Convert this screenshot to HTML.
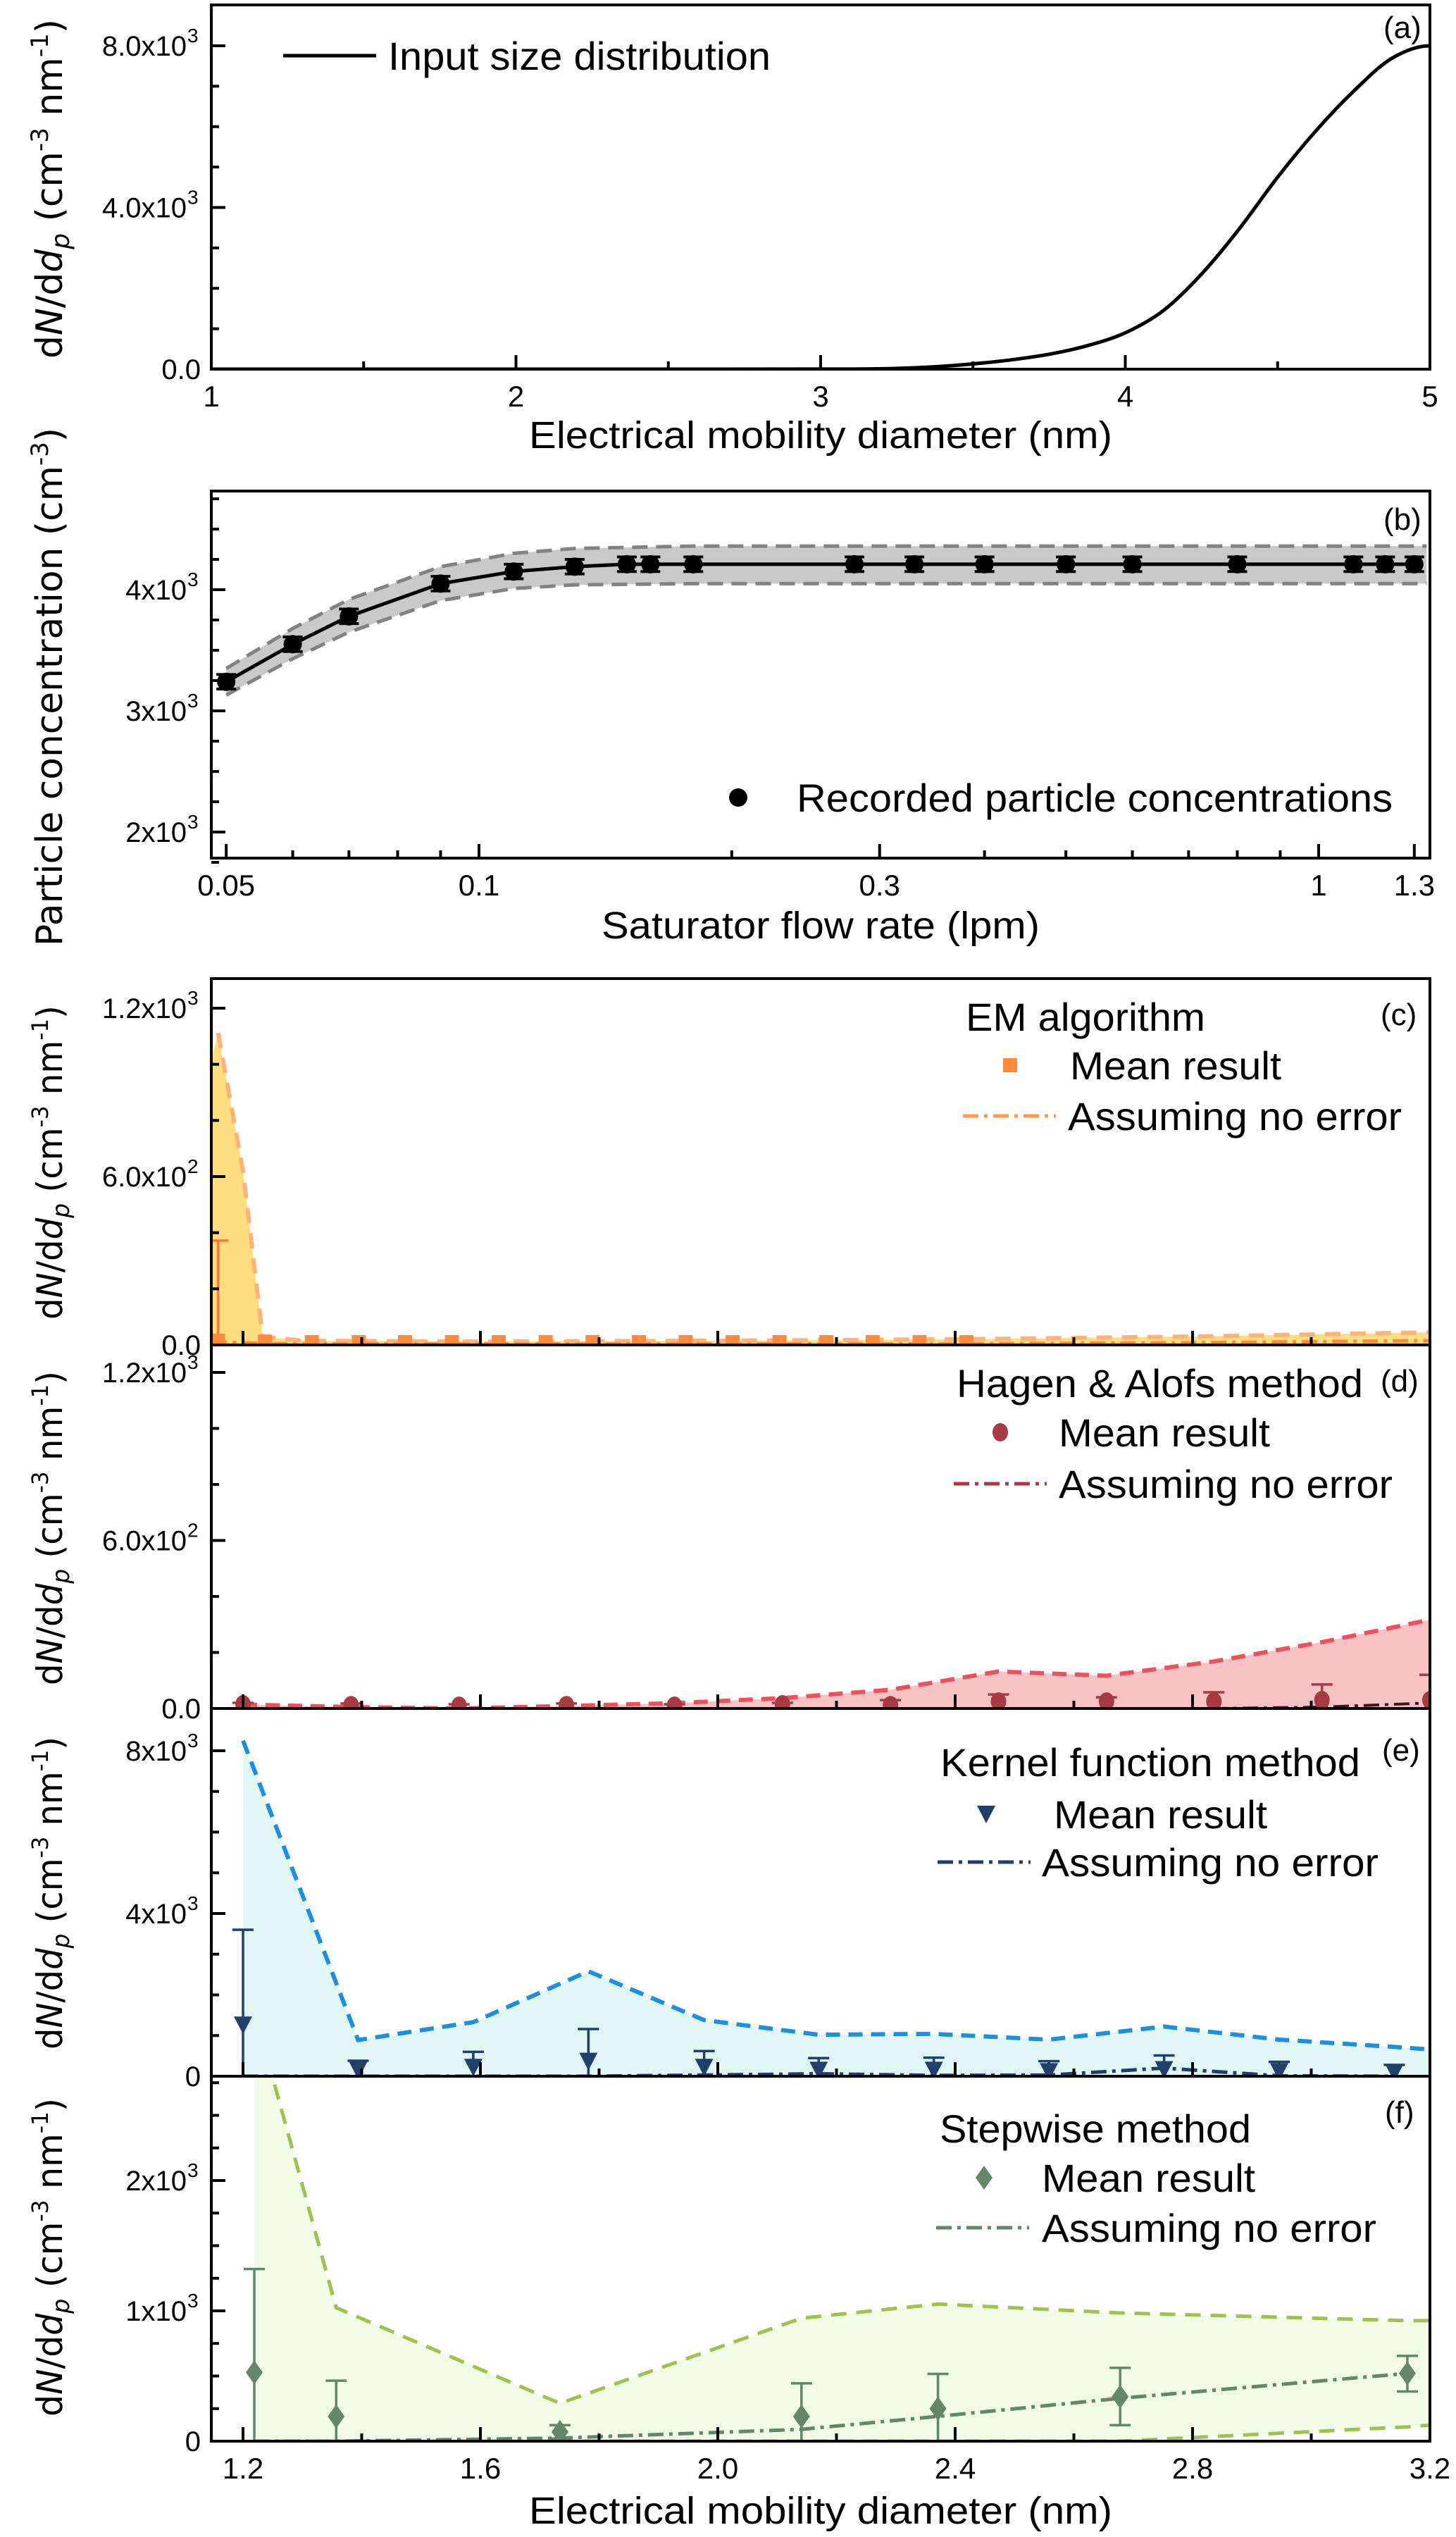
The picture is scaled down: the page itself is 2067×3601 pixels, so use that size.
<!DOCTYPE html>
<html><head><meta charset="utf-8"><style>
html,body{margin:0;padding:0;background:#fff}
svg{display:block}
text{font-family:"Liberation Sans",Arial,sans-serif;fill:#000}
.yt{font-family:"DejaVu Sans","Liberation Sans",sans-serif}
</style></head><body>
<svg id="fig" xmlns="http://www.w3.org/2000/svg" width="2067" height="3601" viewBox="0 0 2067 3601">
<defs>
<clipPath id="clipA"><rect x="300" y="7" width="1730" height="517"/></clipPath>
<clipPath id="clipB"><rect x="300" y="697" width="1730" height="521"/></clipPath>
<clipPath id="clipC"><rect x="300" y="1389" width="1730" height="520"/></clipPath>
<clipPath id="clipD"><rect x="300" y="1909" width="1730" height="516"/></clipPath>
<clipPath id="clipE"><rect x="300" y="2425" width="1730" height="522"/></clipPath>
<clipPath id="clipF"><rect x="300" y="2947" width="1730" height="518"/></clipPath>
</defs>
<g id="layerData"></g>
<g id="layerAxes"></g>

<rect x="300" y="7" width="1730" height="517" fill="none" stroke="#000" stroke-width="4"/>
<rect x="300" y="697" width="1730" height="521" fill="none" stroke="#000" stroke-width="4"/>
<rect x="300" y="1389" width="1730" height="520" fill="none" stroke="#000" stroke-width="4"/>
<rect x="300" y="1909" width="1730" height="516" fill="none" stroke="#000" stroke-width="4"/>
<rect x="300" y="2425" width="1730" height="522" fill="none" stroke="#000" stroke-width="4"/>
<rect x="300" y="2947" width="1730" height="518" fill="none" stroke="#000" stroke-width="4"/>

<text class="yt" transform="translate(88,268) rotate(-90)" text-anchor="middle" font-size="52" textLength="482" lengthAdjust="spacingAndGlyphs">d<tspan font-style="italic">N</tspan>/d<tspan font-style="italic">d</tspan><tspan font-style="italic" font-size="36" dy="10">p</tspan><tspan dy="-10"> (cm</tspan><tspan font-size="34" dy="-20">-3</tspan><tspan dy="20"> nm</tspan><tspan font-size="34" dy="-20">-1</tspan><tspan dy="20">)</tspan></text>
<text class="yt" transform="translate(88,975) rotate(-90)" text-anchor="middle" font-size="52" textLength="736" lengthAdjust="spacingAndGlyphs">Particle concentration (cm<tspan font-size="34" dy="-20">-3</tspan><tspan dy="20">)</tspan></text>
<text class="yt" transform="translate(88,1650) rotate(-90)" text-anchor="middle" font-size="50" textLength="446" lengthAdjust="spacingAndGlyphs">d<tspan font-style="italic">N</tspan>/d<tspan font-style="italic">d</tspan><tspan font-style="italic" font-size="34" dy="10">p</tspan><tspan dy="-10"> (cm</tspan><tspan font-size="32" dy="-20">-3</tspan><tspan dy="20"> nm</tspan><tspan font-size="32" dy="-20">-1</tspan><tspan dy="20">)</tspan></text>
<text class="yt" transform="translate(88,2169) rotate(-90)" text-anchor="middle" font-size="50" textLength="446" lengthAdjust="spacingAndGlyphs">d<tspan font-style="italic">N</tspan>/d<tspan font-style="italic">d</tspan><tspan font-style="italic" font-size="34" dy="10">p</tspan><tspan dy="-10"> (cm</tspan><tspan font-size="32" dy="-20">-3</tspan><tspan dy="20"> nm</tspan><tspan font-size="32" dy="-20">-1</tspan><tspan dy="20">)</tspan></text>
<text class="yt" transform="translate(88,2687) rotate(-90)" text-anchor="middle" font-size="50" textLength="444" lengthAdjust="spacingAndGlyphs">d<tspan font-style="italic">N</tspan>/d<tspan font-style="italic">d</tspan><tspan font-style="italic" font-size="34" dy="10">p</tspan><tspan dy="-10"> (cm</tspan><tspan font-size="32" dy="-20">-3</tspan><tspan dy="20"> nm</tspan><tspan font-size="32" dy="-20">-1</tspan><tspan dy="20">)</tspan></text>
<text class="yt" transform="translate(88,3204) rotate(-90)" text-anchor="middle" font-size="50" textLength="452" lengthAdjust="spacingAndGlyphs">d<tspan font-style="italic">N</tspan>/d<tspan font-style="italic">d</tspan><tspan font-style="italic" font-size="34" dy="10">p</tspan><tspan dy="-10"> (cm</tspan><tspan font-size="32" dy="-20">-3</tspan><tspan dy="20"> nm</tspan><tspan font-size="32" dy="-20">-1</tspan><tspan dy="20">)</tspan></text>

<text x="1165" y="636" text-anchor="middle" font-size="54" textLength="828" lengthAdjust="spacingAndGlyphs">Electrical mobility diameter (nm)</text>
<text x="1165" y="1332" text-anchor="middle" font-size="54" textLength="622" lengthAdjust="spacingAndGlyphs">Saturator flow rate (lpm)</text>
<text x="1165" y="3582" text-anchor="middle" font-size="54" textLength="828" lengthAdjust="spacingAndGlyphs">Electrical mobility diameter (nm)</text>

<text x="1964" y="54" font-size="44">(a)</text>
<text x="1964" y="752" font-size="44">(b)</text>
<text x="1960" y="1455" font-size="44">(c)</text>
<text x="1960" y="1975" font-size="44">(d)</text>
<text x="1962" y="2499" font-size="44">(e)</text>
<text x="1966" y="3013" font-size="44">(f)</text>

<g>
<line x1="402" y1="79" x2="534" y2="79" stroke="#000" stroke-width="5"/>
<text x="551" y="99" font-size="56" textLength="543" lengthAdjust="spacingAndGlyphs">Input size distribution</text>
</g>
<g>
<circle cx="1048" cy="1132" r="13" fill="#000"/>
<text x="1131" y="1152" font-size="56" textLength="846" lengthAdjust="spacingAndGlyphs">Recorded particle concentrations</text>
</g>
<g>
<text x="1371" y="1463" font-size="56" textLength="340" lengthAdjust="spacingAndGlyphs">EM algorithm</text>
<rect x="1424" y="1502" width="20" height="20" fill="#FF8A3D"/>
<text x="1519" y="1532" font-size="56" textLength="300" lengthAdjust="spacingAndGlyphs">Mean result</text>
<line x1="1367" y1="1584" x2="1499" y2="1584" stroke="#FF9A50" stroke-width="5" stroke-dasharray="22,8,5,8"/>
<text x="1516" y="1604" font-size="56" textLength="474" lengthAdjust="spacingAndGlyphs">Assuming no error</text>
</g>
<g>
<text x="1358" y="1983" font-size="56" textLength="577" lengthAdjust="spacingAndGlyphs">Hagen &amp; Alofs method</text>
<ellipse cx="1420" cy="2033" rx="11" ry="13" fill="#A83A44"/>
<text x="1503" y="2053" font-size="56" textLength="300" lengthAdjust="spacingAndGlyphs">Mean result</text>
<line x1="1354" y1="2106" x2="1486" y2="2106" stroke="#A83A44" stroke-width="5" stroke-dasharray="22,8,5,8"/>
<text x="1503" y="2126" font-size="56" textLength="474" lengthAdjust="spacingAndGlyphs">Assuming no error</text>
</g>
<g>
<text x="1335" y="2521" font-size="56" textLength="596" lengthAdjust="spacingAndGlyphs">Kernel function method</text>
<path d="M1387,2563 L1413,2563 L1400,2588 Z" fill="#213F6B"/>
<text x="1496" y="2595" font-size="56" textLength="303" lengthAdjust="spacingAndGlyphs">Mean result</text>
<line x1="1331" y1="2643" x2="1463" y2="2643" stroke="#213F6B" stroke-width="5" stroke-dasharray="22,8,5,8"/>
<text x="1479" y="2663" font-size="56" textLength="478" lengthAdjust="spacingAndGlyphs">Assuming no error</text>
</g>
<g>
<text x="1334" y="3041" font-size="56" textLength="442" lengthAdjust="spacingAndGlyphs">Stepwise method</text>
<path d="M1397,3074 L1409,3091 L1397,3108 L1385,3091 Z" fill="#64866A"/>
<text x="1479" y="3111" font-size="56" textLength="303" lengthAdjust="spacingAndGlyphs">Mean result</text>
<line x1="1329" y1="3162" x2="1461" y2="3162" stroke="#64866A" stroke-width="5" stroke-dasharray="22,8,5,8"/>
<text x="1479" y="3182" font-size="56" textLength="475" lengthAdjust="spacingAndGlyphs">Assuming no error</text>
</g>
</svg>
<script>
// panel a
const aDiam = [1, 2, 3, 3.25, 3.375, 3.5, 3.625, 3.75, 3.875, 4, 4.125, 4.25, 4.375, 4.5, 4.625, 4.75, 4.875, 5];
const aConc = [0, 0, 2, 20, 60, 130, 230, 370, 580, 900, 1450, 2350, 3480, 4750, 5890, 6880, 7690, 8000];
// panel b
const bFlow = [0.05,0.06,0.07,0.09,0.11,0.13,0.15,0.16,0.18,0.28,0.33,0.40,0.50,0.60,0.80,1.1,1.2,1.3];
const bConc = [3240,3550,3780,4050,4150,4190,4210,4210,4210,4210,4210,4210,4210,4210,4210,4210,4210,4210];
const bErr = [60,60,60,60,60,60,60,60,60,60,60,60,60,60,60,60,60,60];
const bBandX = [0.05,0.06,0.07,0.09,0.11,0.13,0.18,0.5,1.0,1.345];
const bBandHi = [3350,3680,3920,4190,4300,4340,4360,4360,4360,4360];
const bBandLo = [3130,3430,3650,3910,4010,4040,4050,4050,4050,4050];
// panel c (EM)
const cX = [1.158,1.237,1.316,1.395,1.473,1.552,1.631,1.710,1.789,1.867,1.946,2.025,2.104,2.183,2.261,2.340,2.419];
const cMean = [15,12,10,10,10,10,10,10,10,10,10,10,10,10,10,10,10];
const cErrTop = [372,12,10,10,10,10,10,10,10,10,10,10,10,10,10,10,10];
const cBandX = [1.147,1.158,1.20,1.233,1.30,1.6,2.0,2.4,2.8,3.2];
const cUpper = [1020,1112,620,30,15,12,15,20,30,45];
const cNoErr = [10,10,8,5,4,4,4,4,8,15];
// panel d (Hagen)
const dX = [1.2,1.382,1.564,1.745,1.927,2.109,2.291,2.473,2.655,2.836,3.018,3.2];
const dMean = [15,12,10,12,10,15,12,25,25,25,30,30];
const dErrTop = [20,18,15,18,15,20,30,50,40,58,86,120];
const dUpper = [14,5,0,9,19,37,67,132,117,168,237,317];
const dNoErr = [0,0,0,0,0,0,0,0,0,0,5,20];
// panel e (Kernel)
const eX = [1.2,1.394,1.588,1.782,1.977,2.17,2.364,2.558,2.752,2.946,3.14];
const eMean = [1260,150,220,370,220,150,150,115,165,115,90];
const eErrTop = [3600,380,600,1160,620,445,457,370,510,355,280];
const eBandX = [1.2,1.394,1.588,1.782,1.977,2.17,2.364,2.558,2.752,2.946,3.14,3.2];
const eUpper = [8250,890,1330,2580,1380,1020,1040,900,1220,900,720,660];
const eNoErr = [0,0,0,0,30,60,20,30,200,10,0];
// panel f (Stepwise)
const fX = [1.219,1.357,1.734,2.141,2.371,2.678,3.162];
const fMean = [528,190,71,190,250,341,520];
const fErrTop = [1321,464,123,444,516,563,655];
const fErrBot = [0,0,20,0,0,123,381];
const fBandX = [1.219,1.357,1.734,2.141,2.371,2.678,3.162,3.2];
const fUpper = [3300,1024,290,944,1052,984,925,925];
const fLower = [0,0,0,0,0,0,110,123];
const fNoErr = [0,0,24,91,190,329,520];
// ticks
const aXTicks = [1,2,3,4,5];
const aXMinor = [1.5,2.5,3.5,4.5];
const aYTicks = [0,4000,8000];
const aYLabels = ['0.0','4.0x10','8.0x10'];
const aYSup = ['','3','3'];
const bXTicks = [0.05,0.1,0.3,1,1.3];
const bXLabels = ['0.05','0.1','0.3','1','1.3'];
const bXMinor = [0.06,0.07,0.08,0.09,0.2,0.4,0.5,0.6,0.7,0.8,0.9];
const bYTicks = [2000,3000,4000];
const bYLabels = ['2x10','3x10','4x10'];
const cdXTicks = [1.2,1.6,2.0,2.4,2.8,3.2];
const cdXLabels = ['1.2','1.6','2.0','2.4','2.8','3.2'];
const cdXMinor = [1.4,1.8,2.2,2.6,3.0];
const cYTicks = [0,600,1200];
const cYLabels = ['0.0','6.0x10','1.2x10'];
const cYSup = ['','2','3'];
const eYTicks = [0,4000,8000];
const eYLabels = ['0','4x10','8x10'];
const fYTicks = [0,1000,2000];
const fYLabels = ['0','1x10','2x10'];

const NS='http://www.w3.org/2000/svg';
const dataL=document.getElementById('layerData');
const axL=document.getElementById('layerAxes');
function mk(tag, attrs, parent){const e=document.createElementNS(NS,tag);for(const k in attrs)e.setAttribute(k,attrs[k]);(parent||dataL).appendChild(e);return e;}
function lin(d0,d1,r0,r1){return v=>r0+(v-d0)/(d1-d0)*(r1-r0);}
const xA=lin(1,5,300,2030), yA=lin(0,8000,524,65);
const xB=v=>680+Math.log10(v/0.1)*1192, yB=lin(2000,4000,1181,837);
const xC=lin(1.2,3.2,345,2030);
const yC=lin(0,1200,1909,1431), yD=lin(0,1200,2425,1948), yE=lin(0,8000,2947,2485), yF=lin(0,2000,3465,3095);
function pts(xs,ys,fx,fy){return xs.map((x,i)=>[fx(x),fy(ys[i])]);}
function linePath(p){return p.map((q,i)=>(i?'L':'M')+q[0].toFixed(1)+','+q[1].toFixed(1)).join(' ');}
function monoPath(p){
  const n=p.length, dx=[], s=[], m=[];
  for(let i=0;i<n-1;i++){dx.push(p[i+1][0]-p[i][0]);s.push((p[i+1][1]-p[i][1])/dx[i]);}
  m[0]=s[0]; m[n-1]=0;
  for(let i=1;i<n-1;i++){m[i]=(s[i-1]*s[i]<=0)?0:(s[i-1]*dx[i]+s[i]*dx[i-1])/(dx[i]+dx[i-1]);}
  for(let i=0;i<n-1;i++){ if(s[i]===0){m[i]=0;m[i+1]=0;continue;}
    const a=m[i]/s[i], b=m[i+1]/s[i], h=a*a+b*b; if(h>9){const t=3/Math.sqrt(h);m[i]=t*a*s[i];m[i+1]=t*b*s[i];}}
  let d='M'+p[0][0].toFixed(1)+','+p[0][1].toFixed(1);
  for(let i=0;i<n-1;i++){const h=dx[i]/3;
    d+=` C${(p[i][0]+h).toFixed(1)},${(p[i][1]+m[i]*h).toFixed(1)} ${(p[i+1][0]-h).toFixed(1)},${(p[i+1][1]-m[i+1]*h).toFixed(1)} ${p[i+1][0].toFixed(1)},${p[i+1][1].toFixed(1)}`;}
  return d;}
function grp(clip,name){const g=mk('g',{'clip-path':'url(#'+clip+')'});return g;}

function yTicks(fy,majors,minors,labels,sups,name){
  majors.forEach((v,i)=>{const y=fy(v);
    const t=mk('line',{x1:300,y1:y,x2:320,y2:y,stroke:'#000','stroke-width':4},axL);
    
    
    const tx=mk('text',{x:sups[i]?265:285,y:y+14,'font-size':40,'text-anchor':'end'},axL);
    tx.textContent=labels[i];
    
    
    if(sups[i]){const s=mk('text',{x:266,y:y-5,'font-size':28},axL);s.textContent=sups[i];
      
      }
  });
  minors.forEach(v=>{const y=fy(v);
    const t=mk('line',{x1:300,y1:y,x2:311,y2:y,stroke:'#000','stroke-width':4},axL);
    
    });
}
function xTicks(fx,yb,majors,minors,labels,name){
  majors.forEach((v,i)=>{const x=fx(v);
    const t=mk('line',{x1:x,y1:yb,x2:x,y2:yb-20,stroke:'#000','stroke-width':4},axL);
    
    
    if(labels){const tx=mk('text',{x:x,y:yb+53,'font-size':42,'text-anchor':'middle'},axL);tx.textContent=labels[i];
      
      }
  });
  minors.forEach(v=>{const x=fx(v);
    const t=mk('line',{x1:x,y1:yb,x2:x,y2:yb-11,stroke:'#000','stroke-width':4},axL);
    
    });
}
function range(a,b,s){const r=[];for(let v=a;v<=b+1e-9;v+=s)r.push(+v.toFixed(6));return r;}
yTicks(yA,aYTicks,[1000,2000,3000,5000,6000,7000],aYLabels,aYSup,'panel-a');
xTicks(xA,524,aXTicks,aXMinor,aXTicks.map(String),'panel-a');
yTicks(yB,bYTicks,range(1750,4750,250).filter(v=>v%1000),bYLabels,['3','3','3'],'panel-b');
xTicks(xB,1218,bXTicks,bXMinor,bXLabels,'panel-b');
yTicks(yC,cYTicks,[200,400,800,1000],cYLabels,cYSup,'panel-c');
xTicks(xC,1909,cdXTicks,cdXMinor,null,'panel-c');
yTicks(yD,cYTicks,[200,400,800,1000],cYLabels,cYSup,'panel-d');
xTicks(xC,2425,cdXTicks,cdXMinor,null,'panel-d');
yTicks(yE,eYTicks,[1000,2000,3000,5000,6000,7000,9000].filter(v=>yE(v)>2430),eYLabels,['','3','3'],'panel-e');
xTicks(xC,2947,cdXTicks,cdXMinor,null,'panel-e');
yTicks(yF,fYTicks,[250,500,750,1250,1500,1750,2250,2500,2750],fYLabels,['','3','3'],'panel-f');
xTicks(xC,3465,cdXTicks,cdXMinor,cdXLabels,'panel-f');

{const g=grp('clipA','panel-a-plot');
 const p=mk('path',{d:monoPath(pts(aDiam,aConc,xA,yA)),fill:'none',stroke:'#000','stroke-width':5},g);
 
 }

{const g=grp('clipB','panel-b-plot');
 const hi=pts(bBandX,bBandHi,xB,yB), lo=pts(bBandX,bBandLo,xB,yB);
 const band=mk('path',{d:linePath(hi)+' '+linePath(lo.slice().reverse()).replace('M','L')+' Z',fill:'#c9c9c9',stroke:'none'},g);
 
 
 const h=mk('path',{d:linePath(hi),fill:'none',stroke:'#828282','stroke-width':5,'stroke-dasharray':'22,12'},g);
 
 
 const l=mk('path',{d:linePath(lo),fill:'none',stroke:'#828282','stroke-width':5,'stroke-dasharray':'22,12'},g);
 
 
 const ln=mk('path',{d:linePath(pts(bFlow,bConc,xB,yB)),fill:'none',stroke:'#000','stroke-width':5},g);
 
 
 bFlow.forEach((f,i)=>{const x=xB(f),y=bConc[i];
  const e=mk('path',{d:`M${x},${yB(y-bErr[i])} L${x},${yB(y+bErr[i])} M${x-14},${yB(y-bErr[i])} L${x+14},${yB(y-bErr[i])} M${x-14},${yB(y+bErr[i])} L${x+14},${yB(y+bErr[i])}`,stroke:'#000','stroke-width':4,fill:'none'},g);
  
  
  const c=mk('circle',{cx:x,cy:yB(y),r:13,fill:'#000'},g);
  
  });}

function areaPath(xs,up,lo,fx,fy){const u=pts(xs,up,fx,fy);const l=pts(xs,lo,fx,fy).reverse();return linePath(u)+' '+linePath(l).replace('M','L')+' Z';}
function errBar(g,x,yt,yb,color,name){const e=mk('path',{d:`M${x},${yb} L${x},${yt} M${x-15},${yt} L${x+15},${yt}`,stroke:color,'stroke-width':3.5,fill:'none'},g);
 
 }

{const g=grp('clipC','panel-c-plot');
 const a=mk('path',{d:areaPath(cBandX,cUpper,cBandX.map(()=>0),xC,yC),fill:'#FFDD80'},g);
 
 
 const u=mk('path',{d:linePath(pts(cBandX.slice(1),cUpper.slice(1),xC,yC)),fill:'none',stroke:'#FFB27A','stroke-width':6,'stroke-dasharray':'22,14'},g);
 
 
 const n=mk('path',{d:linePath(pts(cBandX,cNoErr,xC,yC)),fill:'none',stroke:'#FF8A3D','stroke-width':5,'stroke-dasharray':'22,8,5,8'},g);
 
 
 cX.forEach((d,i)=>{const x=xC(d);
  if(cErrTop[i]>cMean[i]+20) errBar(g,x,yC(cErrTop[i]),yC(0),'#FF7A3A','em-error-bar');
  const r=mk('rect',{x:x-10,y:yC(cMean[i])-10,width:20,height:20,fill:'#FF8A3D'},g);
  
  });}

{const g=grp('clipD','panel-d-plot');
 const a=mk('path',{d:areaPath(dX,dUpper,dX.map(()=>0),xC,yD),fill:'#F9C3C3'},g);
 
 
 const u=mk('path',{d:linePath(pts(dX,dUpper,xC,yD)),fill:'none',stroke:'#F0505E','stroke-width':6,'stroke-dasharray':'20,12'},g);
 
 
 const n=mk('path',{d:linePath(pts(dX,dNoErr,xC,yD)),fill:'none',stroke:'#3a1a1a','stroke-width':4,'stroke-dasharray':'22,8,5,8'},g);
 
 
 dX.forEach((d,i)=>{const x=xC(d);
  errBar(g,x,yD(dErrTop[i]),yD(0),'#A83A44','hagen-error-bar');
  const c=mk('ellipse',{cx:x,cy:yD(dMean[i]),rx:11,ry:13,fill:'#A83A44'},g);
  
  });}

{const g=grp('clipE','panel-e-plot');
 const a=mk('path',{d:areaPath(eBandX,eUpper,eBandX.map(()=>0),xC,yE),fill:'#E1F7F6'},g);
 
 
 const u=mk('path',{d:linePath(pts(eBandX,eUpper,xC,yE)),fill:'none',stroke:'#1E8FE0','stroke-width':6,'stroke-dasharray':'20,12'},g);
 
 
 const n=mk('path',{d:linePath(pts(eX,eNoErr,xC,yE)),fill:'none',stroke:'#213F6B','stroke-width':5,'stroke-dasharray':'22,8,5,8'},g);
 
 
 eX.forEach((d,i)=>{const x=xC(d),y=yE(eMean[i]);
  errBar(g,x,yE(eErrTop[i]),yE(0),'#213F6B','kernel-error-bar');
  const t=mk('path',{d:`M${x-13},${y-12} L${x+13},${y-12} L${x},${y+13} Z`,fill:'#213F6B'},g);
  
  });}

{const g=grp('clipF','panel-f-plot');
 const a=mk('path',{d:areaPath(fBandX,fUpper,fLower,xC,yF),fill:'#F1FCE6'},g);
 
 
 const u=mk('path',{d:linePath(pts(fBandX,fUpper,xC,yF)),fill:'none',stroke:'#9EC24E','stroke-width':5,'stroke-dasharray':'22,14'},g);
 
 
 const l=mk('path',{d:linePath(pts(fBandX,fLower,xC,yF)),fill:'none',stroke:'#9EC24E','stroke-width':5,'stroke-dasharray':'22,14'},g);
 
 
 const n=mk('path',{d:linePath(pts(fX,fNoErr,xC,yF)),fill:'none',stroke:'#64866A','stroke-width':5,'stroke-dasharray':'22,8,5,8'},g);
 
 
 fX.forEach((d,i)=>{const x=xC(d),y=yF(fMean[i]),yt=yF(fErrTop[i]),yb=yF(fErrBot[i]);
  const e=mk('path',{d:`M${x},${yb} L${x},${yt} M${x-15},${yt} L${x+15},${yt}`+(fErrBot[i]>0?` M${x-15},${yb} L${x+15},${yb}`:''),stroke:'#64866A','stroke-width':3.5,fill:'none'},g);
  
  
  const m=mk('path',{d:`M${x},${y-17} L${x+12},${y} L${x},${y+17} L${x-12},${y} Z`,fill:'#64866A'},g);
  
  });}
</script>
</body></html>
